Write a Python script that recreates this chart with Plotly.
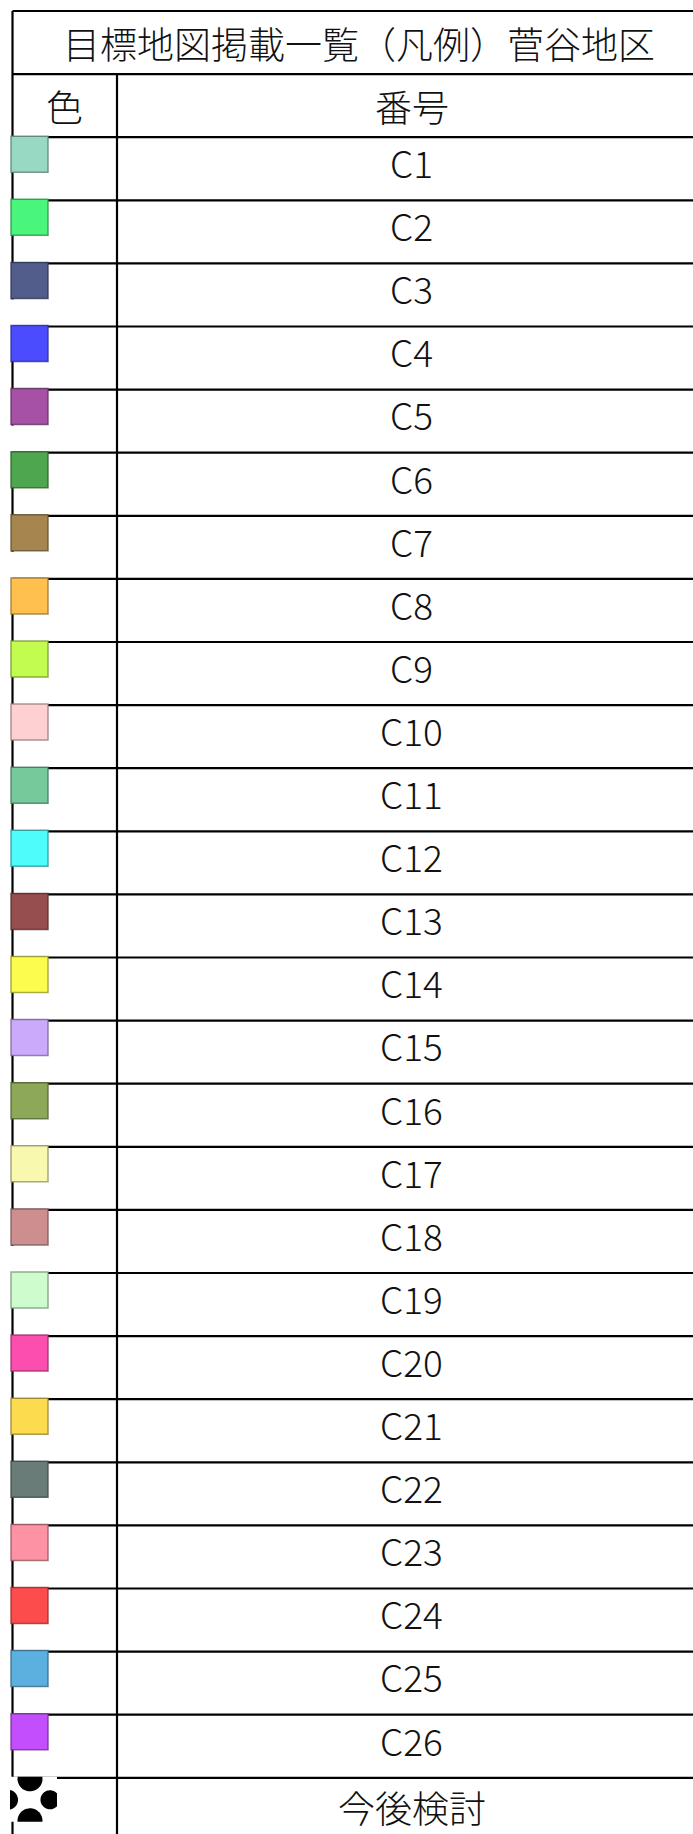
import plotly.graph_objects as go
import numpy as np

# ---------------- data ----------------
title_text = "目標地図掲載一覧（凡例）菅谷地区"
header_color = "色"
header_number = "番号"
numbers = ["C1", "C2", "C3", "C4", "C5", "C6", "C7", "C8", "C9", "C10",
           "C11", "C12", "C13", "C14", "C15", "C16", "C17", "C18", "C19", "C20",
           "C21", "C22", "C23", "C24", "C25", "C26"]
swatch_colors = ["#98d9c3", "#4af57c", "#525d8c", "#4c4cff", "#a650a6", "#4ea64e",
                 "#a6864e", "#ffc04e", "#c2fc4e", "#ffd0d2", "#76c99a", "#4efcfc",
                 "#964e4e", "#fcfc4e", "#cbaafc", "#8ca858", "#f8f8ae", "#cc8e8e",
                 "#cefccc", "#fc4eae", "#fcdc4e", "#6a7c78", "#fc92a4", "#fc4c4c",
                 "#5cb0e0", "#c24efc"]
last_label = "今後検討"

# ---------------- layout constants ----------------
W, H = 693, 1834
TOP = 11.0
ROW_H = 63.1
X_LEFT = 12.5
X_DIV = 117.0
X_RIGHT_VIRTUAL = 706.0   # table continues beyond the visible area
SQ_W = 37
SQ_H = 36
GAP_ROWS = ["C3", "C5", "C7", "C18"]  # left border not visible below swatch
FONT = "Noto Sans CJK JP, Noto Sans CJK SC, sans-serif"
FS = 37
FW = 300
LW = 2.2

n_rows = 2 + len(numbers) + 1


def row_top(i):
    return TOP + i * ROW_H


def darker(hexc, f=0.6):
    h = hexc.lstrip("#")
    r, g, b = (int(h[k:k + 2], 16) for k in (0, 2, 4))
    return "rgba(%d,%d,%d,0.8)" % (int(r * f), int(g * f), int(b * f))


shapes = []
line = dict(color="black", width=LW)

# horizontal lines
shapes.append(dict(type="line", x0=X_LEFT, x1=W + 5, y0=TOP, y1=TOP, line=line))
for i in range(1, n_rows):
    shapes.append(dict(type="line", x0=X_LEFT, x1=W + 5, y0=row_top(i), y1=row_top(i), line=line))

# left border (segments)
shapes.append(dict(type="line", x0=X_LEFT, x1=X_LEFT, y0=TOP, y1=row_top(2), line=line))
for k, lab in enumerate(numbers):
    i = k + 2
    y_end = row_top(i) + SQ_H if lab in GAP_ROWS else row_top(i + 1)
    shapes.append(dict(type="line", x0=X_LEFT, x1=X_LEFT, y0=row_top(i), y1=y_end, line=line))
shapes.append(dict(type="line", x0=X_LEFT, x1=X_LEFT, y0=row_top(n_rows - 1), y1=H + 5, line=line))

# column divider
shapes.append(dict(type="line", x0=X_DIV, x1=X_DIV, y0=row_top(1), y1=H + 5, line=line))

# swatches
for k, c in enumerate(swatch_colors):
    y0 = row_top(k + 2) - 1
    shapes.append(dict(type="rect", x0=X_LEFT - 1.5, x1=X_LEFT - 1.5 + SQ_W, y0=y0, y1=y0 + SQ_H,
                       fillcolor=c, line=dict(color=darker(c), width=1.5), layer="above"))

# "今後検討" hatch icon (white tile with black dots, clipped)
ix0, ix1 = 10.0, 57.0
iy0, iy1 = row_top(n_rows - 1) - 1, row_top(n_rows - 1) + 44
shapes.append(dict(type="rect", x0=ix0, x1=ix1, y0=iy0, y1=iy1, fillcolor="white",
                   line=dict(width=0), layer="above"))
dots = [(30, iy0 + 2, 12.5), (8, iy0 + 23, 10), (50, iy0 + 23, 9.5), (30, iy1 - 1, 12.5)]
t = np.linspace(0, 2 * np.pi, 60)
for cx, cy, r in dots:
    px = np.clip(cx + r * np.cos(t), ix0, ix1)
    py = np.clip(cy + r * np.sin(t), iy0, iy1)
    path = "M " + " L ".join("%.2f,%.2f" % (a, b) for a, b in zip(px, py)) + " Z"
    shapes.append(dict(type="path", path=path, fillcolor="black", line=dict(width=0), layer="above"))

fig = go.Figure()

# number labels
y_centers = [row_top(k + 2) + ROW_H / 2 for k in range(len(numbers))]
fig.add_trace(go.Scatter(
    x=[(X_DIV + X_RIGHT_VIRTUAL) / 2] * len(numbers), y=y_centers, mode="text",
    text=numbers, textposition="middle center",
    textfont=dict(family=FONT, size=FS, color="#111111", weight=FW),
    hoverinfo="skip", showlegend=False))

annotations = [
    dict(x=(X_LEFT + X_RIGHT_VIRTUAL) / 2, y=row_top(0) + ROW_H / 2, text=title_text),
    dict(x=(X_LEFT + X_DIV) / 2, y=row_top(1) + ROW_H / 2, text=header_color),
    dict(x=(X_DIV + X_RIGHT_VIRTUAL) / 2, y=row_top(1) + ROW_H / 2, text=header_number),
    dict(x=(X_DIV + X_RIGHT_VIRTUAL) / 2, y=row_top(n_rows - 1) + ROW_H / 2 - 2, text=last_label),
]
for a in annotations:
    a.update(xref="x", yref="y", showarrow=False, xanchor="center", yanchor="middle",
             font=dict(family=FONT, size=FS, color="#111111", weight=FW))

fig.update_layout(
    width=W, height=H, margin=dict(l=0, r=0, t=0, b=0),
    paper_bgcolor="white", plot_bgcolor="white",
    xaxis=dict(range=[0, W], visible=False, fixedrange=True),
    yaxis=dict(range=[H, 0], visible=False, fixedrange=True),
    shapes=shapes, annotations=annotations, showlegend=False,
)

fig.write_html("out.html", config={"displayModeBar": False},
               post_script="document.body.style.margin='0';document.body.style.overflow='hidden';")
